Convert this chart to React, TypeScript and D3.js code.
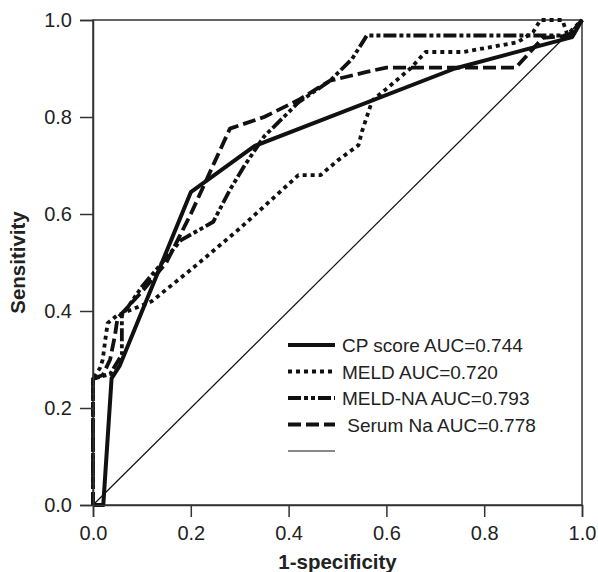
import * as d3 from 'd3';
import React, { useRef, useEffect } from 'react';

// ROC curves, points are [1-specificity, sensitivity]
const cpScore: [number, number][] = [
  [0, 0], [0.021, 0], [0.038, 0.261], [0.055, 0.288], [0.2, 0.645],
  [0.33, 0.74], [0.74, 0.9], [0.97, 0.962], [0.98, 0.965], [1, 1],
];
const meld: [number, number][] = [
  [0, 0], [0, 0.26], [0.014, 0.282], [0.02, 0.3], [0.025, 0.34], [0.03, 0.375],
  [0.048, 0.39], [0.12, 0.42], [0.2, 0.485], [0.3, 0.57], [0.42, 0.68],
  [0.465, 0.68], [0.5, 0.71], [0.543, 0.742], [0.55, 0.77], [0.571, 0.834],
  [0.6, 0.858], [0.649, 0.9], [0.68, 0.934], [0.757, 0.934], [0.868, 0.954],
  [0.9, 0.975], [0.915, 1.0], [0.96, 1.0], [0.97, 0.97], [1, 1],
];
const meldNa: [number, number][] = [
  [0, 0], [0, 0.26], [0.035, 0.27], [0.059, 0.31], [0.059, 0.39],
  [0.1, 0.45], [0.18, 0.546], [0.246, 0.584], [0.28, 0.65], [0.31, 0.7],
  [0.35, 0.76], [0.42, 0.83], [0.485, 0.875], [0.53, 0.92], [0.56, 0.968],
  [0.975, 0.968], [1, 1],
];
const serumNa: [number, number][] = [
  [0, 0], [0, 0.26], [0.02, 0.268], [0.035, 0.3], [0.045, 0.35], [0.05, 0.385],
  [0.1, 0.44], [0.15, 0.5], [0.2, 0.6], [0.25, 0.71], [0.28, 0.776],
  [0.35, 0.8], [0.42, 0.835], [0.485, 0.875], [0.56, 0.893], [0.6, 0.902],
  [0.865, 0.902], [0.92, 0.963], [0.975, 0.968], [1, 1],
];
const reference: [number, number][] = [[0, 0], [1, 1]];

const legendLabels = ['CP score AUC=0.744', 'MELD AUC=0.720', 'MELD-NA AUC=0.793', ' Serum Na AUC=0.778', ''];
const ticks = [0, 0.2, 0.4, 0.6, 0.8, 1.0];

const W = 598, H = 572;
const FONT = '"Liberation Sans", Arial, Helvetica, sans-serif';

function RocChart() {
  const ref = useRef<SVGSVGElement>(null);

  useEffect(() => {
    const svg = d3.select(ref.current);
    svg.selectAll('*').remove();

    const x = d3.scaleLinear().domain([0, 1]).range([93, 582]);
    const y = d3.scaleLinear().domain([0, 1]).range([505, 20]);

    const series = [
      { data: reference, width: 1.2, dash: null },
      { data: meld, width: 3.8, dash: '4,4' },
      { data: serumNa, width: 3.8, dash: '13,5' },
      { data: meldNa, width: 3.8, dash: '13,3,4,3,4,3' },
      { data: cpScore, width: 4, dash: null },
    ];

    // box
    svg.append('rect')
      .attr('x', x(0)).attr('y', y(1))
      .attr('width', x(1) - x(0)).attr('height', y(0) - y(1))
      .attr('fill', 'none').attr('stroke', '#333').attr('stroke-width', 1.5);

    const line = d3.line<[number, number]>().x(d => x(d[0])).y(d => y(d[1]));

    series.forEach(s => {
      svg.append('path')
        .datum(s.data)
        .attr('d', line)
        .attr('fill', 'none')
        .attr('stroke', '#111')
        .attr('stroke-width', s.width)
        .attr('stroke-linejoin', 'round')
        .attr('stroke-dasharray', s.dash);
    });

    // axes
    const xAxis = svg.append('g')
      .attr('transform', `translate(0,${y(0)})`)
      .call(d3.axisBottom(x).tickValues(ticks).tickFormat(d3.format('.1f')).tickSize(12).tickPadding(9));
    const yAxis = svg.append('g')
      .attr('transform', `translate(${x(0)},0)`)
      .call(d3.axisLeft(y).tickValues(ticks).tickFormat(d3.format('.1f')).tickSize(13).tickPadding(8));

    [xAxis, yAxis].forEach(g => {
      g.select('.domain').attr('stroke', '#333').attr('stroke-width', 1.5);
      g.selectAll('.tick line').attr('stroke', '#333').attr('stroke-width', 1.5);
      g.selectAll('.tick text')
        .attr('font-family', FONT).attr('font-size', 20).attr('fill', '#222');
    });

    svg.append('text')
      .attr('x', (x(0) + x(1)) / 2).attr('y', 569)
      .attr('text-anchor', 'middle')
      .attr('font-family', FONT).attr('font-weight', 'bold').attr('font-size', 20.5)
      .attr('fill', '#222')
      .text('1-specificity');

    svg.append('text')
      .attr('transform', `translate(25,${(y(0) + y(1)) / 2}) rotate(-90)`)
      .attr('text-anchor', 'middle')
      .attr('font-family', FONT).attr('font-weight', 'bold').attr('font-size', 20.5)
      .attr('fill', '#222')
      .text('Sensitivity');

    // legend
    const legendStyles = [
      { width: 4, dash: null },
      { width: 3.8, dash: '4,4' },
      { width: 3.8, dash: '13,3,4,3,4,3' },
      { width: 3.8, dash: '13,5' },
      { width: 1.2, dash: null },
    ];
    const legend = svg.append('g');
    legendLabels.forEach((label, i) => {
      const cy = 345 + i * 26.5;
      legend.append('line')
        .attr('x1', 288).attr('x2', 335).attr('y1', cy).attr('y2', cy)
        .attr('stroke', '#111')
        .attr('stroke-width', legendStyles[i].width)
        .attr('stroke-dasharray', legendStyles[i].dash);
      legend.append('text')
        .attr('x', 342).attr('y', cy + 7)
        .attr('font-family', FONT).attr('font-size', 19)
        .attr('fill', '#222')
        .attr('xml:space', 'preserve')
        .style('white-space', 'pre')
        .text(label);
    });
  }, []);

  return <svg ref={ref} width={W} height={H} style={{ position: 'absolute', left: 0, top: 0, background: '#fff' }} />;
}

export default function App() {
  return <RocChart />;
}
